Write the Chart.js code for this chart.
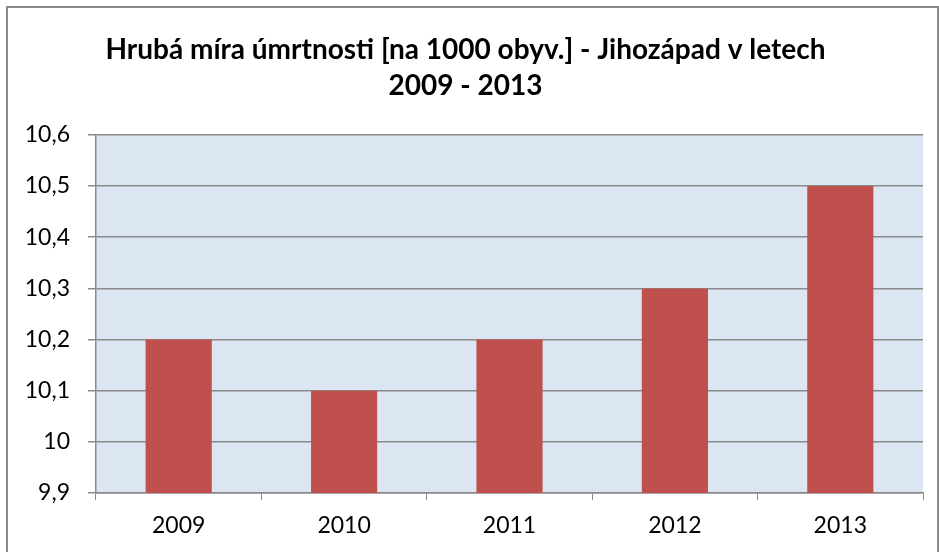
<!DOCTYPE html>
<html>
<head>
<meta charset="utf-8">
<script src="https://cdn.jsdelivr.net/npm/chart.js@4"></script>
<style>
  body { margin: 0; background: #fff; }
  #box { position: absolute; left: 6px; top: 6px; width: 929px; height: 550px; border: 2px solid #8a8a8a; }
</style>
</head>
<body>
<div id="box"><canvas id="myChart" width="929" height="550"></canvas></div>
<script>
// data
const years = ['2009', '2010', '2011', '2012', '2013'];
const mortality = [10.2, 10.1, 10.2, 10.3, 10.5];
const yMin = 9.9;
const yMax = 10.6;
const yStep = 0.1;
const titleLines = ['Hrubá míra úmrtnosti [na 1000 obyv.] - Jihozápad v letech', '2009 - 2013'];

const fontName = 'Lato, "Open Sans", sans-serif';

// plot area background
const plotBg = {
  id: 'plotBg',
  beforeDraw(chart) {
    const a = chart.chartArea;
    const ctx = chart.ctx;
    ctx.save();
    ctx.fillStyle = '#dce6f2';
    ctx.fillRect(a.left, a.top, a.right - a.left, a.bottom - a.top);
    ctx.restore();
  }
};

const ctx = document.getElementById('myChart').getContext('2d');
const myChart = new Chart(ctx, {
  type: 'bar',
  data: {
    labels: years,
    datasets: [{
      data: mortality,
      backgroundColor: '#c0504d',
      barPercentage: 0.4,
      categoryPercentage: 1
    }]
  },
  options: {
    responsive: false,
    animation: false,
    layout: { padding: { left: 0, right: 14, top: 0, bottom: 0 } },
    plugins: {
      legend: { display: false },
      tooltip: { enabled: false },
      title: {
        display: true,
        text: titleLines,
        color: '#000',
        font: { family: fontName, size: 28, weight: 'bold', lineHeight: 1.32 },
        padding: { top: 23, bottom: 30 }
      }
    },
    scales: {
      x: {
        afterFit(scale) { scale.height = 65; },
        grid: { offset: true, drawOnChartArea: false, drawTicks: true, tickLength: 7, color: '#8a8a8a' },
        border: { color: '#8a8a8a', width: 1.5 },
        ticks: { color: '#000', padding: 12, font: { family: fontName, size: 23 } }
      },
      y: {
        min: yMin,
        max: yMax,
        afterFit(scale) { scale.width = 88; },
        grid: { color: '#8a8a8a', lineWidth: 1.5, tickLength: 8 },
        border: { color: '#8a8a8a', width: 1.5 },
        ticks: {
          stepSize: yStep,
          color: '#000',
          padding: 18,
          font: { family: fontName, size: 23 },
          callback: function(value) {
            return String(Math.round(value * 10) / 10).replace('.', ',');
          }
        }
      }
    }
  },
  plugins: [plotBg]
});
</script>
</body>
</html>
